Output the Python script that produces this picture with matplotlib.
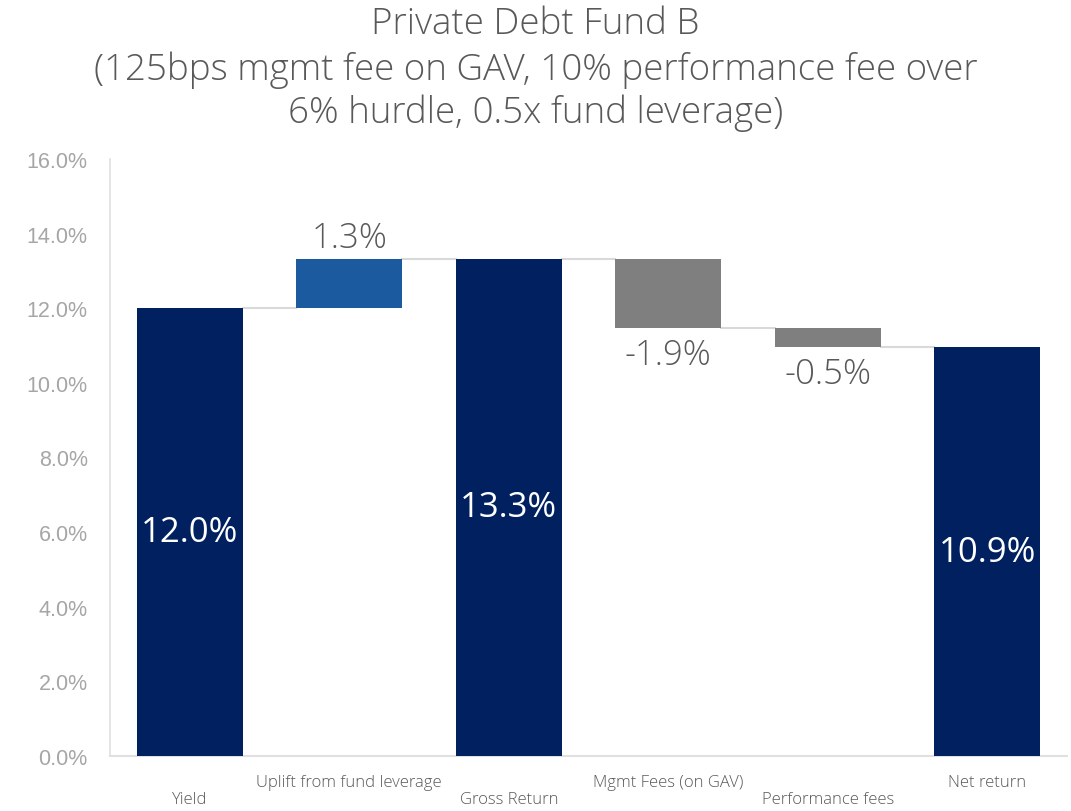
import matplotlib
matplotlib.use("Agg")
import matplotlib.pyplot as plt
from matplotlib.ticker import FuncFormatter

categories = ["Yield", "Uplift from fund leverage", "Gross Return",
              "Mgmt Fees (on GAV)", "Performance fees", "Net return"]
values = [12.0, 1.33, 13.33, -1.86, -0.52, 10.95]
kinds = ["total", "delta", "total", "delta", "delta", "total"]
labels = ["12.0%", "1.3%", "13.3%", "-1.9%", "-0.5%", "10.9%"]

NAVY = "#002060"
BLUE = "#1c5aa0"
GREY = "#7f7f7f"
TXT = "#595959"

FAM = ['Open Sans', 'DejaVu Sans']
plt.rcParams['font.family'] = FAM

fig = plt.figure(figsize=(10.71, 8.12), dpi=100)
ax = fig.add_axes([110/1071, 1-757/812, (1067-110)/1071, (757-160)/812])

bottoms, heights, colors, tops = [], [], [], []
running = 0.0
for v, k in zip(values, kinds):
    if k == "total":
        b, h = 0.0, v
        running = v
        colors.append(NAVY)
    else:
        if v >= 0:
            b, h = running, v
            colors.append(BLUE)
        else:
            b, h = running + v, -v
            colors.append(GREY)
        running = running + v
    bottoms.append(b)
    heights.append(h)
    tops.append(running)

x = list(range(len(categories)))
w = 0.665
ax.bar(x, heights, bottom=bottoms, width=w, color=colors, zorder=3)

# connectors
for i in range(len(x) - 1):
    ax.plot([i + w/2, i + 1 - w/2], [tops[i], tops[i]], color="#d9d9d9", lw=1.5, zorder=2)

# labels
LBL = 25
for i, (v, k) in enumerate(zip(values, kinds)):
    if k == "total":
        ax.text(i, heights[i]/2, labels[i], ha="center", va="center", color="white",
                fontsize=LBL, fontweight="normal")
    elif v >= 0:
        ax.text(i, bottoms[i] + heights[i] + 0.1, labels[i], ha="center", va="bottom", color=TXT,
                fontsize=LBL, fontweight="light")
    else:
        ax.text(i, bottoms[i] - 0.25, labels[i], ha="center", va="top", color=TXT,
                fontsize=LBL, fontweight="light")

ax.set_xlim(-0.5, 5.5)
ax.set_ylim(0, 16)
ax.set_yticks([0, 2, 4, 6, 8, 10, 12, 14, 16])
ax.yaxis.set_major_formatter(FuncFormatter(lambda v, p: f"{v:.1f}%"))
for t in ax.get_yticklabels():
    t.set_family(['Liberation Sans', 'DejaVu Sans'])
ax.tick_params(axis='y', length=0, labelsize=15.5, labelcolor="#a6a6a6", pad=16)
ax.set_xticks([])
for s in ["top", "right"]:
    ax.spines[s].set_visible(False)
ax.spines["left"].set_color("#e0e0e0")
ax.spines["bottom"].set_color("#e0e0e0")
ax.spines["left"].set_linewidth(1.2)
ax.spines["bottom"].set_linewidth(1.5)

for i, c in enumerate(categories):
    ypix = 800 if i % 2 == 0 else 783
    fig.text((110 + (i + 0.5) * (1067-110)/6)/1071, 1 - ypix/812, c,
             ha="center", va="center", color=TXT, fontsize=12, fontweight="light")

TS = 26.5
fig.text(0.5, 1 - 24/812, "Private Debt Fund B", ha="center", va="center", fontsize=TS, color=TXT, fontweight="light")
fig.text(0.5, 1 - 70/812, "(125bps mgmt fee on GAV, 10% performance fee over", ha="center", va="center", fontsize=TS, color=TXT, fontweight="light")
fig.text(0.5, 1 - 113/812, "6% hurdle, 0.5x fund leverage)", ha="center", va="center", fontsize=TS, color=TXT, fontweight="light")

fig.savefig("out.png", dpi=100, facecolor="white")
